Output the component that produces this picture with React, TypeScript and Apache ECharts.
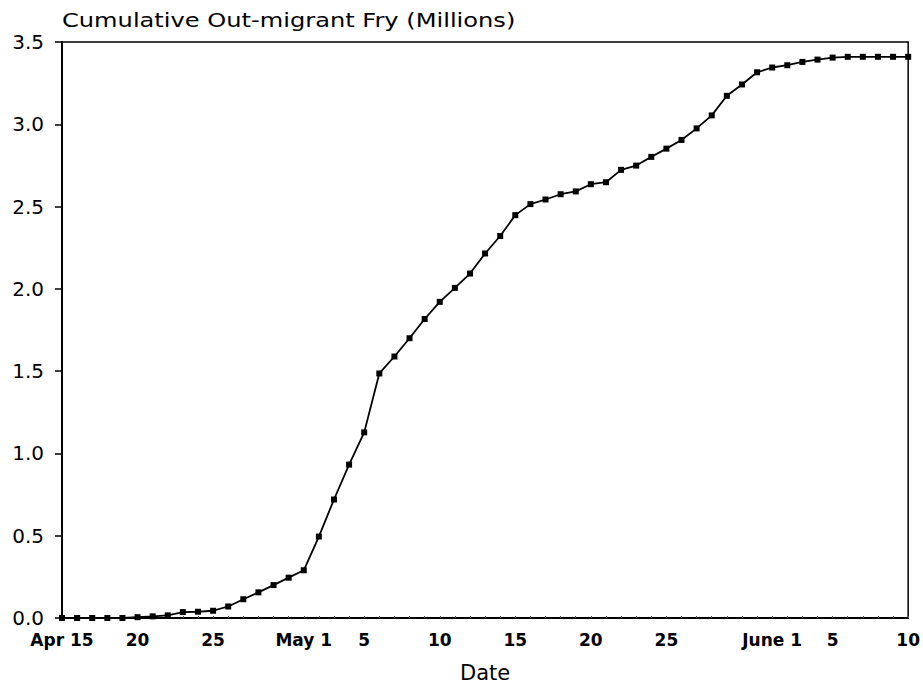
import React, { useEffect, useRef } from "react";
import * as echarts from "echarts";

const DATES: string[] = [
  "Apr 15", "Apr 16", "Apr 17", "Apr 18", "Apr 19", "Apr 20", "Apr 21", "Apr 22",
  "Apr 23", "Apr 24", "Apr 25", "Apr 26", "Apr 27", "Apr 28", "Apr 29", "Apr 30",
  "May 1", "May 2", "May 3", "May 4", "May 5", "May 6", "May 7", "May 8", "May 9",
  "May 10", "May 11", "May 12", "May 13", "May 14", "May 15", "May 16", "May 17",
  "May 18", "May 19", "May 20", "May 21", "May 22", "May 23", "May 24", "May 25",
  "May 26", "May 27", "May 28", "May 29", "May 30", "May 31",
  "June 1", "June 2", "June 3", "June 4", "June 5", "June 6", "June 7", "June 8",
  "June 9", "June 10",
];

const CUMULATIVE_FRY: number[] = [
  0, 0, 0, 0, 0, 0.005, 0.01, 0.016, 0.036, 0.038, 0.044, 0.07, 0.114, 0.156, 0.2, 0.245,
  0.29, 0.495, 0.72, 0.932, 1.128, 1.486, 1.589, 1.7, 1.817, 1.921, 2.006, 2.093, 2.215,
  2.321, 2.448, 2.515, 2.543, 2.575, 2.592, 2.636, 2.648, 2.723, 2.749, 2.802, 2.852,
  2.905, 2.975, 3.054, 3.173, 3.242, 3.316,
  3.345, 3.359, 3.379, 3.393, 3.405, 3.41, 3.41, 3.41, 3.41, 3.41,
];

const X_TICK_LABELS: Record<string, string> = {
  "Apr 15": "Apr 15",
  "Apr 20": "20",
  "Apr 25": "25",
  "May 1": "May 1",
  "May 5": "5",
  "May 10": "10",
  "May 15": "15",
  "May 20": "20",
  "May 25": "25",
  "June 1": "June 1",
  "June 5": "5",
  "June 10": "10",
};

const TITLE = "Cumulative Out-migrant Fry (Millions)";
const X_NAME = "Date";

export default function App() {
  const ref = useRef<HTMLDivElement>(null);
  useEffect(() => {
    if (!ref.current) return;
    const chart = echarts.init(ref.current, undefined, { renderer: "svg" });
    chart.setOption({
      animation: false,
      backgroundColor: "#fff",
      graphic: [
        {
          type: "text",
          x: 62,
          y: 11,
          scaleX: 1.27,
          style: {
            text: TITLE,
            font: "19px 'DejaVu Sans'",
            fill: "#000",
            verticalAlign: "top",
          },
        },
      ],
      grid: {
        left: 62,
        right: 13,
        top: 42,
        bottom: 68,
        show: true,
        borderColor: "#000",
        borderWidth: 1.5,
      },
      xAxis: {
        type: "category",
        data: DATES,
        boundaryGap: false,
        name: X_NAME,
        nameLocation: "middle",
        nameGap: 44,
        nameTextStyle: {
          fontFamily: "DejaVu Sans",
          fontSize: 21,
          color: "#000",
        },
        axisLine: { lineStyle: { color: "#000", width: 2 } },
        axisTick: {
          show: true,
          inside: true,
          length: 2,
          interval: 0,
          lineStyle: { color: "#555", width: 1 },
        },
        axisLabel: {
          interval: 0,
          margin: 13,
          fontFamily: "DejaVu Sans",
          fontWeight: "bold",
          fontSize: 17,
          color: "#000",
          formatter: (v: string) => X_TICK_LABELS[v] ?? "",
        },
        splitLine: { show: false },
      },
      yAxis: {
        type: "value",
        min: 0,
        max: 3.5,
        interval: 0.5,
        axisLine: { show: true, lineStyle: { color: "#000", width: 2 } },
        axisTick: {
          show: true,
          length: 7,
          lineStyle: { color: "#000", width: 1.5 },
        },
        axisLabel: {
          margin: 18,
          fontFamily: "DejaVu Sans",
          fontSize: 20,
          color: "#000",
          formatter: (v: number) => v.toFixed(1),
        },
        splitLine: { show: false },
      },
      series: [
        {
          type: "line",
          data: CUMULATIVE_FRY,
          symbol: "rect",
          symbolSize: 6,
          showAllSymbol: true,
          lineStyle: { color: "#000", width: 1.8 },
          itemStyle: { color: "#000" },
        },
      ],
    });
    return () => chart.dispose();
  }, []);
  return (
    <div
      ref={ref}
      style={{ position: "fixed", left: 0, top: 0, width: 923, height: 688 }}
    />
  );
}
